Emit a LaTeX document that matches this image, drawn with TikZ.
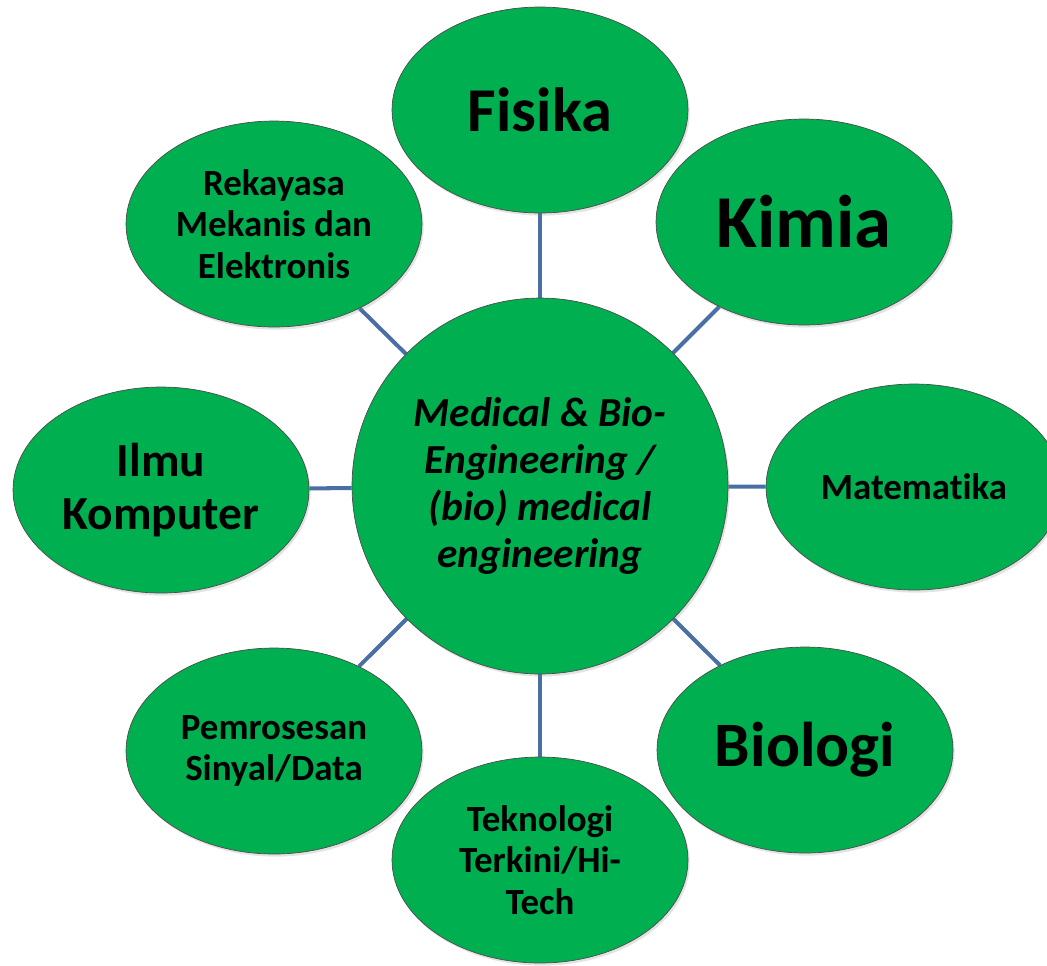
\documentclass[tikz,border=0pt]{standalone}
\usepackage{fontspec}
\setmainfont[Ligatures=NoCommon]{Carlito}
\usetikzlibrary{shapes.geometric,shadows,backgrounds}
\definecolor{hijau}{HTML}{00B050}
\definecolor{garis}{HTML}{4A6FA5}
\begin{document}
\begin{tikzpicture}[x=0.02cm, y=0.02cm, line join=round, line cap=round,
	bola/.style={fill=hijau, draw=black!70, line width=0.4pt, align=center, inner sep=0pt,
		drop shadow={opacity=0.22, shadow xshift=1pt, shadow yshift=-1.5pt}},
	elips/.style={bola, ellipse, minimum width=5.92cm, minimum height=4.12cm},
	pusat/.style={bola, circle, minimum size=7.52cm},
	kaki/.style={draw=garis, line width=2.3pt},
	teks/.style={font=\bfseries\fontsize{#1}{#1}\selectfont}]
	\def\W{1047} \def\H{965} % ukuran gambar
	\useasboundingbox (0,0) rectangle (\W,-\H);
	\clip (0,0) rectangle (\W,-\H);
	\node[pusat, font=\bfseries\itshape\fontsize{23.5}{26.6}\selectfont] (bme) at (540,-486)
		{Medical \& Bio-\\Engineering /\\(bio) medical\\engineering};
	\node[elips, teks=35.5] (fis) at (540,-110) {Fisika};
	\node[elips, teks=42.5] (kim) at (804,-222) {Kimia};
	\node[elips, teks=21] (mat) at (914,-487) {Matematika};
	\node[elips, teks=36] (bio) at (805,-750) {Biologi};
	\node[elips, font=\bfseries\fontsize{21}{23.6}\selectfont] (tek) at (540,-860) {Teknologi\\Terkini/Hi-\\Tech};
	\node[elips, font=\bfseries\fontsize{21}{23.6}\selectfont] (pem) at (274,-751) {Pemrosesan\\Sinyal/Data};
	\node[elips, font=\bfseries\fontsize{27}{30}\selectfont] (ilm) at (161,-490) {Ilmu\\Komputer};
	\node[elips, font=\bfseries\fontsize{21}{23.6}\selectfont] (rek) at (274,-224) {Rekayasa\\Mekanis dan\\Elektronis};
	\begin{scope}[on background layer]
		\foreach \n in {fis,kim,mat,bio,tek,pem,ilm,rek}
		\draw[kaki] (bme) -- (\n);
	\end{scope}
\end{tikzpicture}
\end{document}
